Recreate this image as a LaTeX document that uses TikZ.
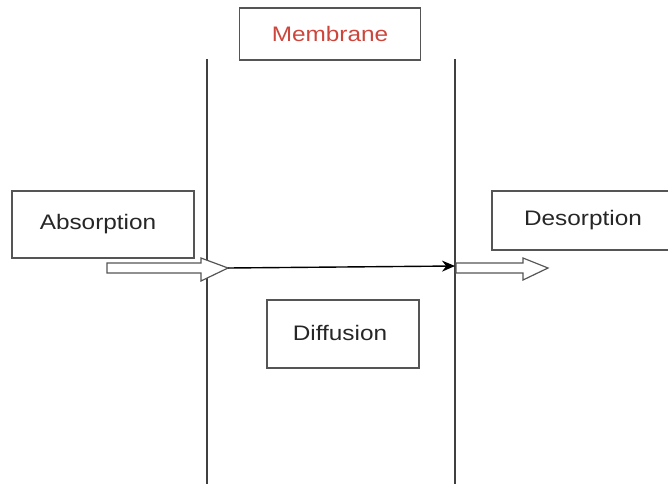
\documentclass[tikz,border=0pt]{standalone}
\usepackage{fontspec}
\setmainfont{Liberation Sans}
\usetikzlibrary{arrows.meta}
\definecolor{boxgray}{RGB}{85,85,85}
\definecolor{memred}{RGB}{205,70,60}
\begin{document}
\begin{tikzpicture}[x=1pt,y=-1pt,
  labelbox/.style={draw=boxgray,line width=1.2pt,rectangle,inner sep=0pt},
  labeltext/.style={inner sep=0pt,font=\fontsize{21}{24}\selectfont,text=black!85},
  memline/.style={draw=black!75,line width=1.2pt},
  hollow/.style={draw=boxgray,line width=1.2pt,fill=white,line join=miter}]
\useasboundingbox (0,0) rectangle (668,484);
% boxes
\node[labelbox,minimum width=181pt,minimum height=52pt] (mem) at (330,34) {};
\node[labeltext,text=memred] (memt) at (330,34) {\scalebox{1.16}[1]{Membrane}};
\node[labelbox,minimum width=182pt,minimum height=67pt] (abs) at (103,224.5) {};
\node[labeltext] (abst) at (98,224) {\scalebox{1.16}[1]{Absorption}};
\node[labelbox,minimum width=200pt,minimum height=59pt] (des) at (592,220.5) {};
\node[labeltext] (dest) at (583,220) {\scalebox{1.16}[1]{Desorption}};
\node[labelbox,minimum width=152pt,minimum height=68pt] (dif) at (343,334) {};
\node[labeltext] (dift) at (340,333) {\scalebox{1.16}[1]{Diffusion}};
% membrane lines
\coordinate (l1t) at (207,59);
\coordinate (l1b) at (207,484);
\coordinate (l2t) at (455,59);
\coordinate (l2b) at (455,484);
\draw[memline] (l1t) -- (l1b);
\draw[memline] (l2t) -- (l2b);
% hollow arrows
\coordinate (tipL) at (228,268);
\coordinate (tipR) at (548,268);
\coordinate (startR) at (455,266);
\draw[hollow] (107,263) -- (201,263) -- (201,258) -- (tipL) -- (201,281) -- (201,273) -- (107,273) -- cycle;
\draw[hollow] (456,263) -- (523,263) -- (523,258) -- (tipR) -- (523,280) -- (523,273) -- (456,273) -- cycle;
% diffusion arrow
\draw[black,line width=1.4pt,-{Stealth[length=13pt,width=11pt]}] (tipL) -- (startR);
\end{tikzpicture}
\end{document}
